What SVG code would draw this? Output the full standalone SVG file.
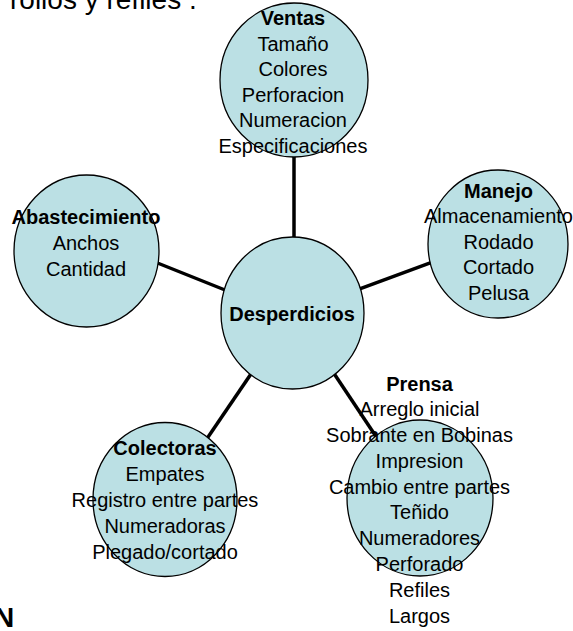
<svg xmlns="http://www.w3.org/2000/svg" width="573" height="631" viewBox="0 0 573 631">
<style>
.c{fill:#bbe0e4;stroke:#000;stroke-width:1.3}
.t{font-family:"Liberation Sans",Arial,sans-serif;font-size:20px;fill:#000;text-anchor:middle}
.b{font-weight:bold}
.big{font-family:"Liberation Sans",Arial,sans-serif;font-size:28px;fill:#000}
.ln{stroke:#000;stroke-width:3.5;fill:none}
</style>
<rect width="573" height="631" fill="#fff"/>
<text class="big" x="10" y="9">rollos y refiles .</text>
<text class="big b" x="-6" y="627">N</text>
<g id="connectors">
<line class="ln" x1="294" y1="150" x2="294" y2="245"/>
<line class="ln" x1="150" y1="260" x2="230" y2="292"/>
<line class="ln" x1="355" y1="290.6" x2="437" y2="260.4"/>
<line class="ln" x1="330" y1="367.5" x2="380" y2="442.5"/>
<line class="ln" x1="255" y1="368" x2="204" y2="443"/>
</g>
<g id="ventas">
<ellipse class="c" cx="294" cy="80" rx="74" ry="77"/>
<text class="t" x="293" y="25"><tspan class="b">Ventas</tspan><tspan x="293" y="50.5">Tamaño</tspan><tspan x="293" y="76">Colores</tspan><tspan x="293" y="101.5">Perforacion</tspan><tspan x="293" y="127">Numeracion</tspan><tspan x="293" y="152.5">Especificaciones</tspan></text>
</g>
<g id="abastecimiento">
<ellipse class="c" cx="86.5" cy="251" rx="72.5" ry="76"/>
<text class="t" x="86" y="224"><tspan class="b">Abastecimiento</tspan><tspan x="86" y="250">Anchos</tspan><tspan x="86" y="275.5">Cantidad</tspan></text>
</g>
<g id="manejo">
<ellipse class="c" cx="498" cy="244" rx="70" ry="74"/>
<text class="t" x="498.5" y="197.5"><tspan class="b">Manejo</tspan><tspan x="498.5" y="223">Almacenamiento</tspan><tspan x="498.5" y="248.5">Rodado</tspan><tspan x="498.5" y="274">Cortado</tspan><tspan x="498.5" y="299.5">Pelusa</tspan></text>
</g>
<g id="desperdicios">
<ellipse class="c" cx="292.5" cy="313" rx="71.5" ry="76"/>
<text class="t b" x="292" y="320.5">Desperdicios</text>
</g>
<g id="prensa">
<ellipse class="c" cx="420" cy="498" rx="73" ry="78"/>
<text class="t" x="419.5" y="390.5"><tspan class="b">Prensa</tspan><tspan x="419.5" y="416.3">Arreglo inicial</tspan><tspan x="419.5" y="442">Sobrante en Bobinas</tspan><tspan x="419.5" y="467.8">Impresion</tspan><tspan x="419.5" y="493.6">Cambio entre partes</tspan><tspan x="419.5" y="519.4">Teñido</tspan><tspan x="419.5" y="545.2">Numeradores</tspan><tspan x="419.5" y="571">Perforado</tspan><tspan x="419.5" y="596.8">Refiles</tspan><tspan x="419.5" y="622.6">Largos</tspan></text>
</g>
<g id="colectoras">
<ellipse class="c" cx="165" cy="499.5" rx="72" ry="77"/>
<text class="t" x="165" y="455"><tspan class="b">Colectoras</tspan><tspan x="165" y="481">Empates</tspan><tspan x="165" y="507">Registro entre partes</tspan><tspan x="165" y="533">Numeradoras</tspan><tspan x="165" y="558.5">Plegado/cortado</tspan></text>
</g>
</svg>
